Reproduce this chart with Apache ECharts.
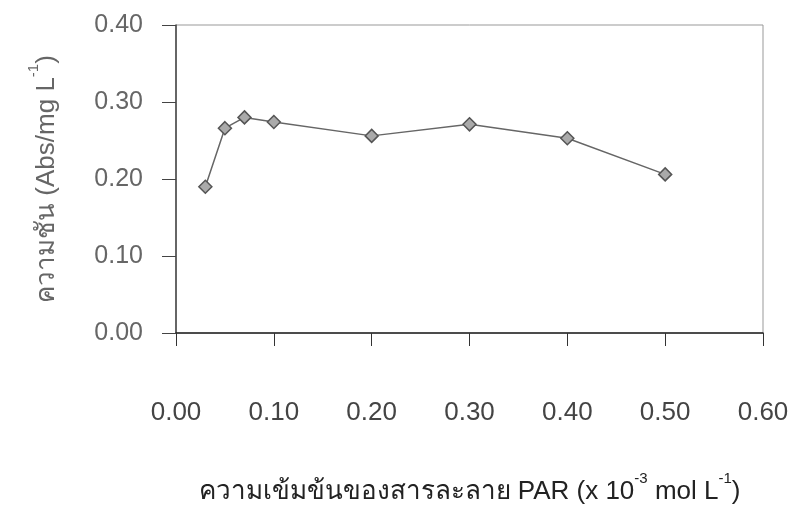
<!DOCTYPE html>
<html><head><meta charset="utf-8">
<script src="https://cdn.jsdelivr.net/npm/echarts@6/dist/echarts.min.js"></script>
<style>html,body{margin:0;padding:0;background:#fff}#c{width:793px;height:507px}</style>
</head><body><div id="c"></div>
<script>
var xValues = [0.03, 0.05, 0.07, 0.10, 0.20, 0.30, 0.40, 0.50];
var yValues = [0.190, 0.266, 0.280, 0.274, 0.256, 0.271, 0.253, 0.206];
var xTicks = [0.00, 0.10, 0.20, 0.30, 0.40, 0.50, 0.60];
var yTicks = [0.00, 0.10, 0.20, 0.30, 0.40];

var data = xValues.map(function (x, i) { return [x, yValues[i]]; });
var font = 'Liberation Sans, Arial, sans-serif';
var chart = echarts.init(document.getElementById('c'));
chart.setOption({
  animation: false,
  grid: { left: 176, right: 30, top: 25, bottom: 174, outerBoundsMode: 'none', containLabel: false,
          show: true, borderColor: '#999', borderWidth: 1 },
  xAxis: {
    type: 'value', min: xTicks[0], max: xTicks[xTicks.length - 1], interval: 0.1,
    name: '{t|ความเข้มข้นของสารละลาย PAR (x 10}{s|-3}{t| mol L}{s|-1}{t|)}',
    nameLocation: 'middle', nameGap: 138,
    nameTextStyle: { rich: {
      t: { fontSize: 26, fontFamily: font, color: '#222', lineHeight: 34, verticalAlign: 'bottom' },
      s: { fontSize: 15, fontFamily: font, color: '#222', lineHeight: 34, verticalAlign: 'top' }
    } },
    axisLine: { lineStyle: { color: '#222', width: 1.5 } },
    axisTick: { length: 13, lineStyle: { color: '#333' } },
    axisLabel: { margin: 67, fontSize: 26, fontFamily: font, color: '#444', formatter: function (v) { return v.toFixed(2); } },
    splitLine: { show: false }
  },
  yAxis: {
    type: 'value', min: yTicks[0], max: yTicks[yTicks.length - 1], interval: 0.1,
    name: '{t|ความชัน (Abs/mg L}{s|-1}{t|)}',
    nameLocation: 'middle', nameGap: 116,
    nameTextStyle: { rich: {
      t: { fontSize: 26, fontFamily: font, color: '#666', lineHeight: 34, verticalAlign: 'bottom' },
      s: { fontSize: 15, fontFamily: font, color: '#666', lineHeight: 34, verticalAlign: 'top' }
    } },
    axisLine: { lineStyle: { color: '#444', width: 1.5 } },
    axisTick: { length: 14, lineStyle: { color: '#444' } },
    axisLabel: { margin: 33, fontSize: 25, fontFamily: font, color: '#666', formatter: function (v) { return v.toFixed(2); } },
    splitLine: { show: false }
  },
  series: [{
    type: 'line', data: data,
    symbol: 'diamond', symbolSize: 13,
    lineStyle: { color: '#666', width: 1.5 },
    itemStyle: { color: '#aaa', borderColor: '#555', borderWidth: 1.5 }
  }]
});
</script></body></html>
